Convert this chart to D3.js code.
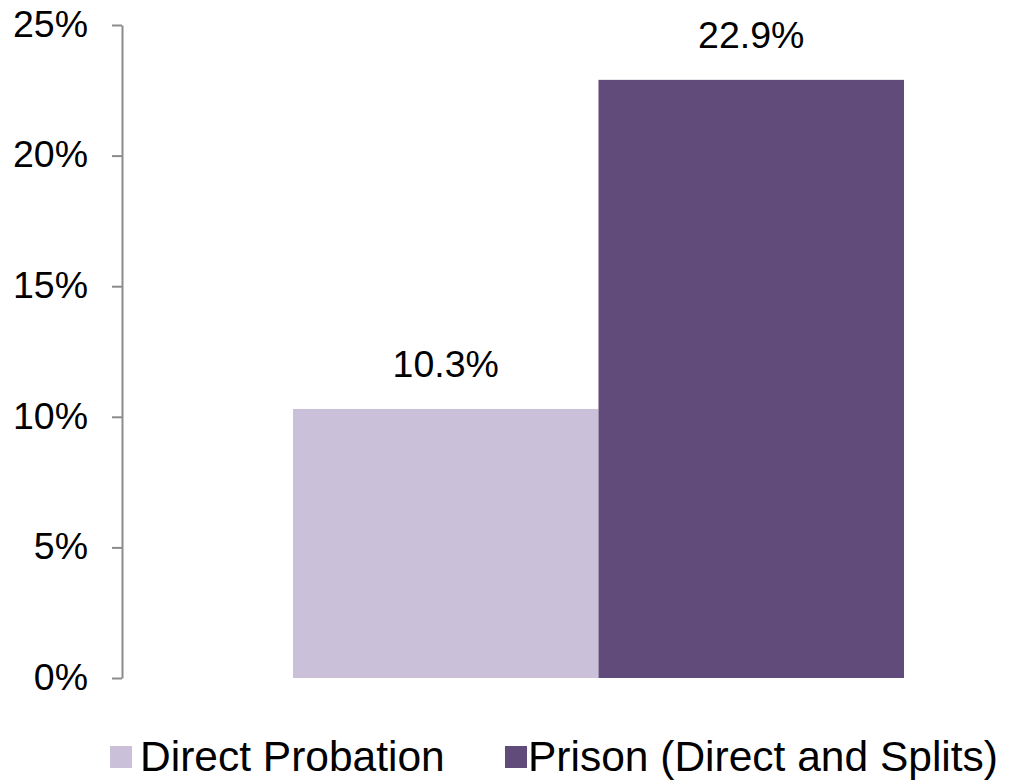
<!DOCTYPE html>
<html>
<head>
<meta charset="utf-8">
<script src="https://cdn.jsdelivr.net/npm/d3@7"></script>
<style>
  html, body { margin: 0; padding: 0; background: #fff; }
  svg text { font-family: "Liberation Sans", Arial, Helvetica, sans-serif; fill: #000; }
</style>
</head>
<body>
<svg id="chart" width="1009" height="780"></svg>
<script>
const categories = ["Direct Probation", "Prison (Direct and Splits)"];
const values = [10.3, 22.9];
const valueLabels = ["10.3%", "22.9%"];
const colors = ["#cac0da", "#614b7a"];
const yTicks = [0, 5, 10, 15, 20, 25];
const yTickLabels = ["0%", "5%", "10%", "15%", "20%", "25%"];

const svg = d3.select("#chart");
const fontSize = 37.5;

const y = d3.scaleLinear().domain([0, 25]).range([678, 25]);
const x = d3.scaleBand().domain(categories).range([293, 904]).paddingInner(0).paddingOuter(0);

// Bars
svg.selectAll("rect.bar").data(categories).enter().append("rect")
  .attr("class", "bar")
  .attr("x", d => x(d))
  .attr("width", x.bandwidth())
  .attr("y", (d, i) => y(values[i]))
  .attr("height", (d, i) => y(0) - y(values[i]))
  .attr("fill", (d, i) => colors[i]);

// Value labels
svg.selectAll("text.val").data(categories).enter().append("text")
  .attr("class", "val")
  .attr("x", d => x(d) + x.bandwidth() / 2)
  .attr("y", (d, i) => y(values[i]) - 32)
  .attr("text-anchor", "middle")
  .style("font-size", fontSize + "px")
  .text((d, i) => valueLabels[i]);

// Y axis
const axis = d3.axisLeft(y).tickValues(yTicks).tickFormat((d, i) => yTickLabels[i]).tickSize(10).tickSizeOuter(0).tickPadding(24);
const g = svg.append("g").attr("transform", "translate(122,0)").call(axis);
g.select(".domain").attr("stroke", "#8c8c8c").attr("stroke-width", 2);
g.selectAll(".tick line").attr("stroke", "#8c8c8c").attr("stroke-width", 2);
g.selectAll(".tick text")
  .attr("font-family", null)
  .style("font-size", fontSize + "px")
  .attr("fill", "#000")
  .attr("dy", "0.3em");

// Legend
const legendX = [110, 505];
const legendTextX = [140, 528];
const leg = svg.selectAll("g.leg").data(categories).enter().append("g")
  .attr("class", "leg");
leg.append("rect")
  .attr("x", (d, i) => legendX[i]).attr("y", 746)
  .attr("width", 22).attr("height", 22).attr("fill", (d, i) => colors[i]);
leg.append("text")
  .attr("x", (d, i) => legendTextX[i]).attr("y", 771)
  .style("font-size", "42.5px")
  .text(d => d);
</script>
</body>
</html>
